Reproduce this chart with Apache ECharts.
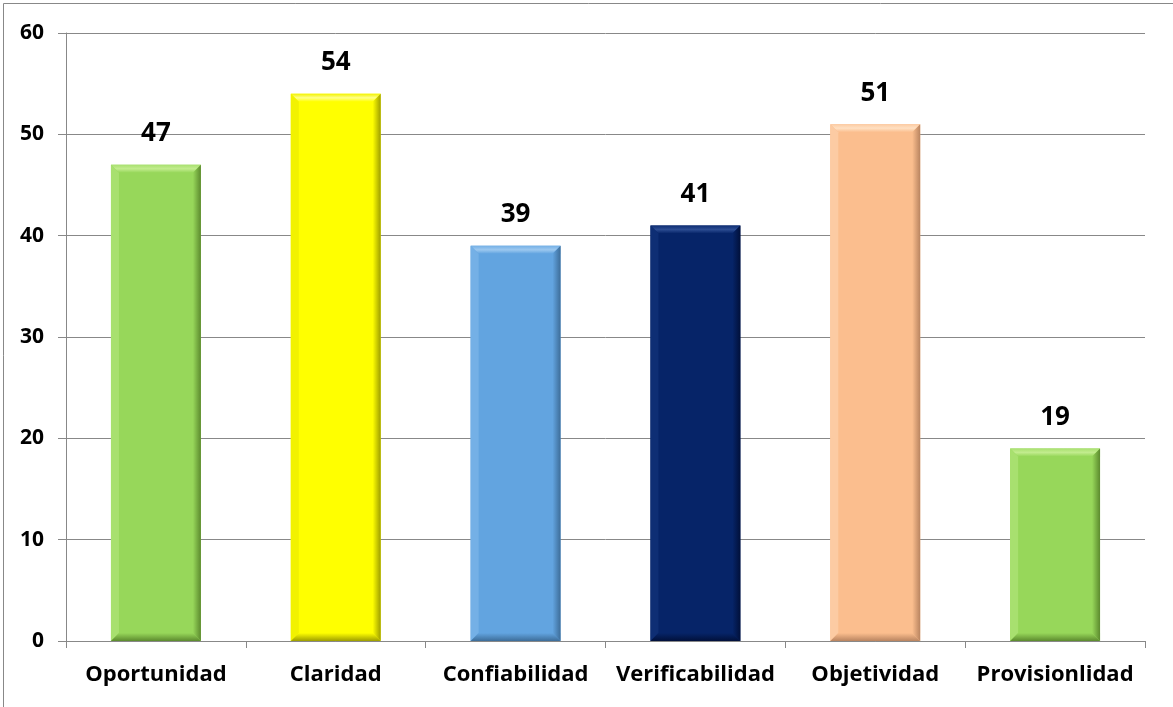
<!DOCTYPE html>
<html>
<head>
<meta charset="utf-8">
<script src="https://cdn.jsdelivr.net/npm/echarts@6/dist/echarts.min.js"></script>
<style>
  html, body { margin: 0; padding: 0; background: #fff; }
  #chart { width: 1173px; height: 707px; }
</style>
</head>
<body>
<div id="chart"></div>
<script>
var categories = ['Oportunidad', 'Claridad', 'Confiabilidad', 'Verificabilidad', 'Objetividad', 'Provisionlidad'];
var values = [47, 54, 39, 41, 51, 19];
// base, light (top bevel), side light, dark (right/bottom bevel)
var barColors = [
  ['#97D75A', '#C2EC8E', '#A8E06F', '#5C8A2E'],
  ['#FFFF00', '#FFFF8A', '#F2F200', '#9E9E00'],
  ['#62A4E0', '#9CC8EF', '#74B0E6', '#3D6D99'],
  ['#062468', '#2C4C92', '#0E2E74', '#01103A'],
  ['#FBBE8E', '#FFE0C2', '#FCCBA3', '#B98460'],
  ['#97D75A', '#C2EC8E', '#A8E06F', '#5C8A2E']
];
var yMin = 0, yMax = 60, yStep = 10;

var font = '"Open Sans", Lato, sans-serif';

function renderBar(params, api) {
  var idx = api.value(0);
  var top = api.coord([idx, api.value(1)]);
  var base = api.coord([idx, 0]);
  var w = api.size([1, 0])[0] * 0.5;
  var x0 = top[0] - w / 2, x1 = top[0] + w / 2;
  var y0 = top[1], y1 = base[1];
  var b = 8;
  var c = barColors[idx];
  return {
    type: 'group',
    children: [
      { type: 'rect', shape: { x: x0, y: y0, width: w, height: y1 - y0 }, style: { fill: c[0] } },
      { type: 'polygon', shape: { points: [[x0, y0], [x1, y0], [x1 - b, y0 + b], [x0 + b, y0 + b]] },
        style: { fill: new echarts.graphic.LinearGradient(0, 0, 0, 1, [{ offset: 0, color: c[2] }, { offset: 0.5, color: c[1] }, { offset: 1, color: c[0] }]) } },
      { type: 'polygon', shape: { points: [[x0, y0], [x0 + b, y0 + b], [x0 + b, y1 - b], [x0, y1]] },
        style: { fill: c[2] } },
      { type: 'polygon', shape: { points: [[x1, y0], [x1, y1], [x1 - b, y1 - b], [x1 - b, y0 + b]] },
        style: { fill: new echarts.graphic.LinearGradient(0, 0, 1, 0, [{ offset: 0, color: c[0] }, { offset: 1, color: c[3] }]) } },
      { type: 'polygon', shape: { points: [[x0, y1], [x0 + b, y1 - b], [x1 - b, y1 - b], [x1, y1]] },
        style: { fill: new echarts.graphic.LinearGradient(0, 0, 0, 1, [{ offset: 0, color: c[0] }, { offset: 1, color: c[3] }]) } },
      { type: 'text', x: top[0], y: y0 - 31,
        style: { text: String(api.value(1)), fill: '#000', font: 'bold 26px ' + font, align: 'center', verticalAlign: 'middle' } }
    ]
  };
}

var chart = echarts.init(document.getElementById('chart'));
chart.setOption({
  animation: false,
  grid: { left: 66, right: 28, top: 33, bottom: 66 },
  graphic: [{
    type: 'polyline', silent: true, z: 0,
    shape: { points: [[3.5, 707], [3.5, 3.5], [1173, 3.5]] },
    style: { stroke: '#888', lineWidth: 1, fill: null }
  }],
  xAxis: {
    type: 'category',
    data: categories,
    axisLine: { lineStyle: { color: '#888', width: 1 } },
    axisTick: { show: true, length: 7, lineStyle: { color: '#888' } },
    axisLabel: { color: '#000', fontWeight: 'bold', fontSize: 22, fontFamily: font, margin: 23, interval: 0, hideOverlap: false }
  },
  yAxis: {
    type: 'value',
    min: yMin, max: yMax, interval: yStep,
    axisLine: { show: true, lineStyle: { color: '#888', width: 1 } },
    axisTick: { show: true, length: 8, lineStyle: { color: '#888' } },
    splitLine: { lineStyle: { color: '#888', width: 1 } },
    axisLabel: { color: '#000', fontWeight: 'bold', fontSize: 21, fontFamily: font, margin: 22 }
  },
  series: [{
    type: 'custom',
    renderItem: renderBar,
    encode: { x: 0, y: 1 },
    data: values.map(function (v, i) { return [i, v]; })
  }]
});
</script>
</body>
</html>
